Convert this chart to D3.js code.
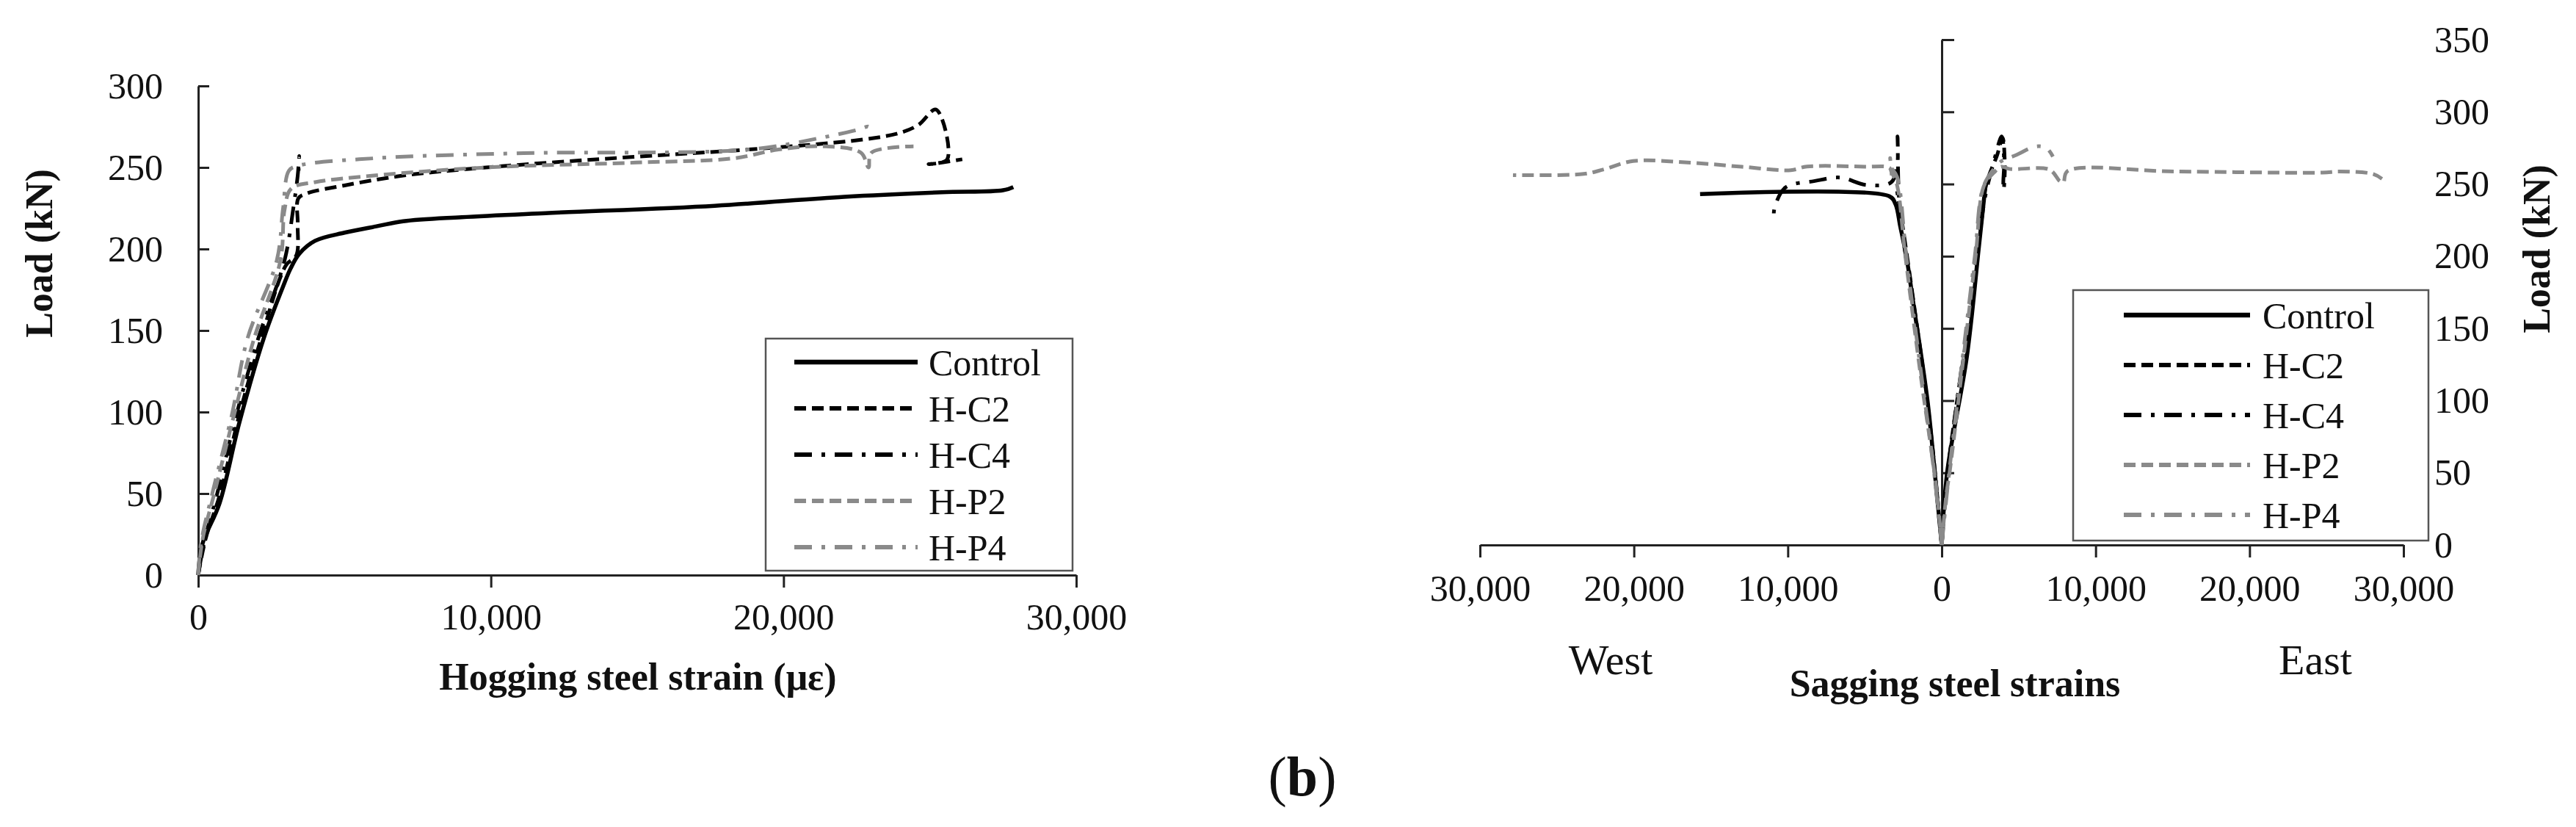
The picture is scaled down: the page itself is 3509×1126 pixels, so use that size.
<!DOCTYPE html>
<html lang="en">
<head>
<meta charset="utf-8">
<title>Load vs steel strain</title>
<script src="https://d3js.org/d3.v7.min.js"></script>
<style>
  body { margin: 0; background: #fff; }
  svg text { font-family: "Liberation Serif", "Times New Roman", serif; fill: #111; }
  .tick text { font-size: 50px; }
  .axis path, .axis line { stroke: #222; stroke-width: 3; }
  .title { font-size: 52px; font-weight: bold; }
  .legend text { font-size: 50px; }
</style>
</head>
<body>
<div id="chart"></div>
<script>
// series names, same for both panels
var seriesNames = ["Control", "H-C2", "H-C4", "H-P2", "H-P4"];
var loadTicks = [0, 50, 100, 150, 200, 250, 300];
var loadTicksSag = [0, 50, 100, 150, 200, 250, 300, 350];
var strainTicks = [0, 10000, 20000, 30000];
var strainTicksSag = [-30000, -20000, -10000, 0, 10000, 20000, 30000];

// hogging steel strain (με), load (kN)
var hogControl = [[0,0],[143,19],[728,44],[1398,93],[2235,145],[2900,177],[3156,188],[3450,197],[3992,205],[5000,210],[6120,214],[7004,217],[9000,219.5],[11870,222],[17650,226.5],[22070,232],[25410,234.8],[27500,236],[27850,238]];
var hogHC2 = [[0,0],[250,22],[750,50],[1400,98],[2150,145],[3000,190],[3350,196],[3400,215],[3420,231],[3700,234],[5000,239],[7000,245],[9838,250],[14962,256.6],[18805,261],[22648,267],[23929,271],[24600,276],[25210,285.5],[25594,255],[24954,252],[26107,255]];
var hogHC4 = [[0,0],[200,20],[650,50],[1300,98],[2050,145],[2950,193],[3250,225],[3400,245],[3450,257],[3430,248]];
var hogHP2 = [[0,0],[150,22],[550,50],[1250,100],[1908,145],[2810,193],[2950,224],[3177,237],[4000,241],[5995,245],[9838,250],[14962,253],[18292,255.6],[19830,261],[21367,263],[22648,259],[22904,250],[23000,259],[24441,263]];
var hogHP4 = [[0,0],[100,20],[480,50],[1146,98],[1682,145],[2685,193],[2900,225],[3100,248],[3400,251],[5995,255.6],[11119,258.8],[18805,261],[21367,268.5],[22500,273],[22904,275],[22800,272]];

// sagging steel strains, west side negative, east side positive
var sagControlW = [[0,0],[-450,50],[-925,100],[-1880,170],[-2300,200],[-2700,221],[-3000,236],[-3400,241.5],[-15700,243]];
var sagControlE = [[0,0],[350,50],[1627,130],[2400,205],[2850,250]];
var sagHC2W = [[0,0],[-430,50],[-950,100],[-1850,170],[-2600,225],[-2900,245]];
var sagHC2E = [[0,0],[380,50],[1000,100],[1700,150],[2400,210],[2900,250],[3600,270],[3950,282],[4100,262],[4050,248]];
var sagHC4W = [[0,0],[-460,50],[-960,100],[-1900,170],[-2600,220],[-2800,245],[-2870,283],[-2900,262],[-3300,251],[-4900,249.4],[-6600,254.5],[-8300,252],[-10140,247.7],[-10870,233],[-10900,226]];
var sagHC4E = [[0,0],[400,50],[1000,100],[1650,150],[2300,200],[2800,240],[3300,262],[3900,283],[4050,265],[4000,250],[4050,245]];
var sagHP2W = [[0,0],[-300,35],[-600,60],[-1400,120],[-2360,200],[-2920,250],[-3250,258],[-3400,261.3],[-5000,262],[-8756,262.1],[-9809,259.6],[-13000,262],[-16220,264.7],[-20057,265.9],[-22000,260],[-23263,257],[-27856,256.2]];
var sagHP2E = [[0,0],[300,35],[510,50],[1308,120],[2200,200],[2743,248.8],[3400,258],[3860,262],[4450,260.4],[7000,260],[7670,252],[7900,251],[8166,258.9],[15144,258.7],[24737,257.9],[25822,258.7],[28000,257],[28603,253.6]];
var sagHP4W = [[0,0],[-550,55],[-1350,120],[-2300,200],[-2900,255],[-3300,262],[-3350,268],[-3250,256]];
var sagHP4E = [[0,0],[480,50],[1250,120],[2150,200],[2700,248],[3500,262],[3900,266],[4817,270],[6093,276],[6800,275],[7225,269]];

var styles = {
  "Control": { color: "#000", dash: null, width: 5.5 },
  "H-C2": { color: "#000", dash: "16,8", width: 5 },
  "H-C4": { color: "#000", dash: "24,13,5,13", width: 5 },
  "H-P2": { color: "#8a8a8a", dash: "16,8", width: 5 },
  "H-P4": { color: "#8a8a8a", dash: "24,13,5,13", width: 5 }
};

var svg = d3.select("#chart").append("svg")
  .attr("width", 3509).attr("height", 1126);

var fmt = d3.format(",");

function drawLegend(x0, y0, w, h, rowY, rowH, lx1, lx2, tx) {
  var g = svg.append("g").attr("class", "legend");
  g.append("rect").attr("x", x0).attr("y", y0).attr("width", w).attr("height", h)
    .attr("fill", "#fff").attr("stroke", "#555").attr("stroke-width", 2.5);
  seriesNames.forEach(function(name, i) {
    var s = styles[name];
    var yy = rowY + i * rowH;
    g.append("line").attr("x1", lx1).attr("x2", lx2).attr("y1", yy).attr("y2", yy)
      .attr("stroke", s.color).attr("stroke-width", s.width + 1)
      .attr("stroke-dasharray", s.dash);
    g.append("text").attr("x", tx).attr("y", yy).attr("dy", "0.35em").text(name);
  });
}

function drawSeries(x, y, name, pts) {
  var s = styles[name];
  var line = d3.line().x(function(d) { return x(d[0]); }).y(function(d) { return y(d[1]); })
    .curve(d3.curveCatmullRom.alpha(0.5));
  svg.append("path").datum(pts)
    .attr("d", line)
    .attr("fill", "none")
    .attr("stroke", s.color)
    .attr("stroke-width", s.width)
    .attr("stroke-dasharray", s.dash)
    .attr("stroke-linejoin", "round");
}

// ---------- left panel: hogging ----------
var xH = d3.scaleLinear().domain([0, 30000]).range([270, 1466]);
var yH = d3.scaleLinear().domain([0, 300]).range([783, 117]);

svg.append("g").attr("class", "axis").attr("transform", "translate(0," + yH(0) + ")")
  .call(d3.axisBottom(xH).tickValues(strainTicks).tickFormat(fmt).tickSizeInner(17).tickSizeOuter(0))
  .selectAll("text").attr("y", 56).attr("dy", "0.35em");

svg.append("g").attr("class", "axis").attr("transform", "translate(" + xH(0) + ",0)")
  .call(d3.axisLeft(yH).tickValues(loadTicks).tickSizeInner(-15).tickSizeOuter(0).tickPadding(48));

svg.selectAll(".axis .tick text").attr("fill", "#111");

drawSeries(xH, yH, "Control", hogControl);
drawSeries(xH, yH, "H-C2", hogHC2);
drawSeries(xH, yH, "H-C4", hogHC4);
drawSeries(xH, yH, "H-P2", hogHP2);
drawSeries(xH, yH, "H-P4", hogHP4);

svg.append("text").attr("class", "title")
  .attr("transform", "translate(53,345) rotate(-90)")
  .attr("text-anchor", "middle").attr("dy", "0.35em").text("Load (kN)");
svg.append("text").attr("class", "title")
  .attr("x", 869).attr("y", 921).attr("dy", "0.35em")
  .attr("text-anchor", "middle").text("Hogging steel strain (με)");

drawLegend(1043, 461, 418, 316, 493, 63, 1082, 1250, 1265);

// ---------- right panel: sagging ----------
var xS = d3.scaleLinear().domain([-30000, 30000]).range([2016, 3274]);
var yS = d3.scaleLinear().domain([0, 350]).range([742, 54]);

svg.append("g").attr("class", "axis").attr("transform", "translate(0," + yS(0) + ")")
  .call(d3.axisBottom(xS).tickValues(strainTicksSag)
    .tickFormat(function(d) { return fmt(Math.abs(d)); })
    .tickSizeInner(17).tickSizeOuter(0))
  .selectAll("text").attr("y", 58).attr("dy", "0.35em");

var yAxS = svg.append("g").attr("class", "axis").attr("transform", "translate(" + xS(0) + ",0)")
  .call(d3.axisRight(yS).tickValues(loadTicksSag).tickSizeInner(17).tickSizeOuter(0));
yAxS.selectAll("text").attr("x", 3316 - xS(0)).attr("text-anchor", "start");

drawSeries(xS, yS, "Control", sagControlW);
drawSeries(xS, yS, "Control", sagControlE);
drawSeries(xS, yS, "H-C2", sagHC2W);
drawSeries(xS, yS, "H-C2", sagHC2E);
drawSeries(xS, yS, "H-C4", sagHC4W);
drawSeries(xS, yS, "H-C4", sagHC4E);
drawSeries(xS, yS, "H-P2", sagHP2W);
drawSeries(xS, yS, "H-P2", sagHP2E);
drawSeries(xS, yS, "H-P4", sagHP4W);
drawSeries(xS, yS, "H-P4", sagHP4E);

svg.append("text").attr("class", "title")
  .attr("transform", "translate(3455,339) rotate(-90)")
  .attr("text-anchor", "middle").attr("dy", "0.35em").text("Load (kN)");
svg.append("text").attr("class", "title")
  .attr("x", 2663).attr("y", 930).attr("dy", "0.35em")
  .attr("text-anchor", "middle").text("Sagging steel strains");
svg.append("text").attr("x", 2194).attr("y", 898).attr("dy", "0.35em")
  .attr("text-anchor", "middle").style("font-size", "58px").text("West");
svg.append("text").attr("x", 3154).attr("y", 898).attr("dy", "0.35em")
  .attr("text-anchor", "middle").style("font-size", "58px").text("East");

drawLegend(2824, 395, 484, 341, 429, 68, 2893, 3065, 3082);

// panel caption
var cap = svg.append("text").attr("x", 1774).attr("y", 1083)
  .attr("text-anchor", "middle").style("font-size", "76px");
cap.append("tspan").text("(");
cap.append("tspan").style("font-weight", "bold").text("b");
cap.append("tspan").text(")");
</script>
</body>
</html>
